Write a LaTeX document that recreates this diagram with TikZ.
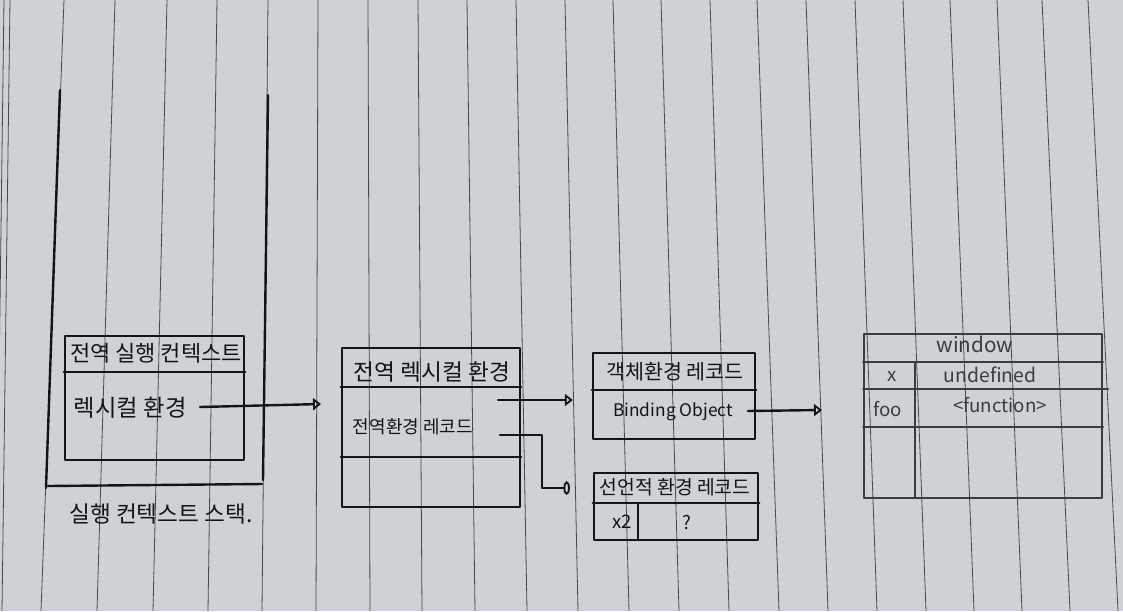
\documentclass[tikz,border=0pt]{standalone}
\usepackage{fontspec}
\setmainfont{Noto Sans CJK KR}
\usetikzlibrary{arrows.meta,calc}
\definecolor{paper}{HTML}{CED2D7}
\definecolor{rule}{HTML}{454A51}
\definecolor{ink}{HTML}{141414}
\definecolor{pencil}{HTML}{3A3C40}
\newcommand{\fs}[1]{\fontsize{#1}{#1}\selectfont}
\begin{document}
\begin{tikzpicture}[x=0.75pt,y=-0.75pt,
  pen/.style={draw=ink, line width=1.8pt, line cap=round, line join=round},
  grid/.style={draw=pencil, line width=1.5pt, line cap=round},
  frame/.style={pen, inner sep=0pt},
  txt/.style={inner sep=2pt, text=ink},
  arr/.style={pen, -{Triangle[open, length=6pt, width=9pt, line width=1.4pt]}},
  ovl/.style={pen, -{Ellipse[open, length=5pt, width=10pt, line width=1.4pt]}},
  paperline/.style={draw=rule, line width=0.6pt}]
% paper
\fill[paper] (0,0) rectangle (1123,611);
\useasboundingbox (0,0) rectangle (1123,611);
\foreach \a/\b in {4/-4,10/2,64/41,115/97,167/153,217/208,268/262,318/316,368/370,418/422,467/475,516/527,565/578,613/629,661/679,710/729,757/779,806/828,855/877,903/926,950/974,997/1022,1042/1070,1088/1118}
  \draw[paperline] (\a,0) -- (\b,611);

% execution context stack (open-top frame)
\coordinate (stl) at (60,90);
\coordinate (stbl) at (46,488);
\coordinate (str) at (268,95);
\coordinate (stbr) at (263,480);
\draw[pen] (stl) -- (stbl);
\draw[pen] (str) -- (stbr);
\draw[pen] (48,486) -- (262,484);
\node[txt, font=\fs{17pt}] (stacklbl) at (161,514) {실행 컨텍스트 스택.};

% global execution context
\node[frame, minimum width=134.25pt, minimum height=93pt] (gec) at (154.5,398) {};
\draw[pen] (gec.west |- 0,372) -- (gec.east |- 0,372);
\node[txt, font=\fs{16.5pt}] (gectitle) at (156,353) {전역 실행 컨텍스트};
\node[txt, font=\fs{17.5pt}, anchor=west] (lex) at (71,408) {렉시컬 환경};

% global lexical environment
\node[frame, minimum width=133.5pt, minimum height=119.25pt] (gle) at (431,427.5) {};
\draw[pen] (gle.west |- 0,387) -- (gle.east |- 0,387);
\draw[pen] (gle.west |- 0,457) -- (gle.east |- 0,457);
\node[txt, font=\fs{17pt}] (gletitle) at (432,372) {전역 렉시컬 환경};
\node[txt, font=\fs{13.5pt}, anchor=west] (ger) at (350,427) {전역환경 레코드};

% object environment record
\node[frame, minimum width=121.5pt, minimum height=64.5pt] (oer) at (674,396) {};
\draw[pen] (oer.west |- 0,390) -- (oer.east |- 0,390);
\node[txt, font=\fs{15.5pt}] (oertitle) at (675,372) {객체환경 레코드};
\node[txt, font=\fs{13pt}] (bo) at (673,412) {Binding Object};

% declarative environment record
\node[frame, minimum width=123pt, minimum height=50.25pt] (der) at (676,506.5) {};
\draw[pen] (der.west |- 0,503) -- (der.east |- 0,503);
\draw[pen] (638,503) -- (638,540);
\node[txt, font=\fs{14.5pt}] (dertitle) at (675,487) {선언적 환경 레코드};
\node[txt, font=\fs{14pt}] (x2) at (622,522) {x2};
\node[txt, font=\fs{14pt}] (q) at (687,522) {?};

% window object table
\node[frame, draw=pencil, line width=1.5pt, minimum width=178.5pt, minimum height=123pt] (win) at (983,416) {};
\draw[grid] (win.west |- 0,362) -- (win.east |- 0,362);
\draw[grid] (win.west |- 0,389) -- (1108,389);
\draw[grid] (win.west |- 0,427) -- (win.east |- 0,427);
\draw[grid] (915,362) -- (915,498);
\node[txt, text=pencil, font=\fs{15.5pt}] (wtitle) at (975,344) {window};
\node[txt, text=pencil, font=\fs{14pt}] (kx) at (892,376) {x};
\node[txt, text=pencil, font=\fs{14.5pt}] (vx) at (990,375) {undefined};
\node[txt, text=pencil, font=\fs{14pt}] (kfoo) at (888,409) {foo};
\node[txt, text=pencil, font=\fs{14pt}] (vfoo) at (1000,405) {<function>};

% connectors
\coordinate (a1) at (200,407);
\coordinate (a1end) at (321,404);
\draw[arr] (a1) -- (a1end);

\coordinate (g1) at (498,400);
\draw[arr, shorten >=14.25pt] (g1) -- (g1 -| oer.west);

\coordinate (g2) at (500,435);
\coordinate (g2b) at (542,435);
\coordinate (g2c) at (542,488);
\coordinate (d1) at (570,488);
\draw[ovl] (g2) -- (g2b) -- (g2c) -- (d1);

\coordinate (o1) at (748,411);
\coordinate (o1end) at (822,410);
\draw[arr] (o1) -- (o1end);
\end{tikzpicture}
\end{document}
